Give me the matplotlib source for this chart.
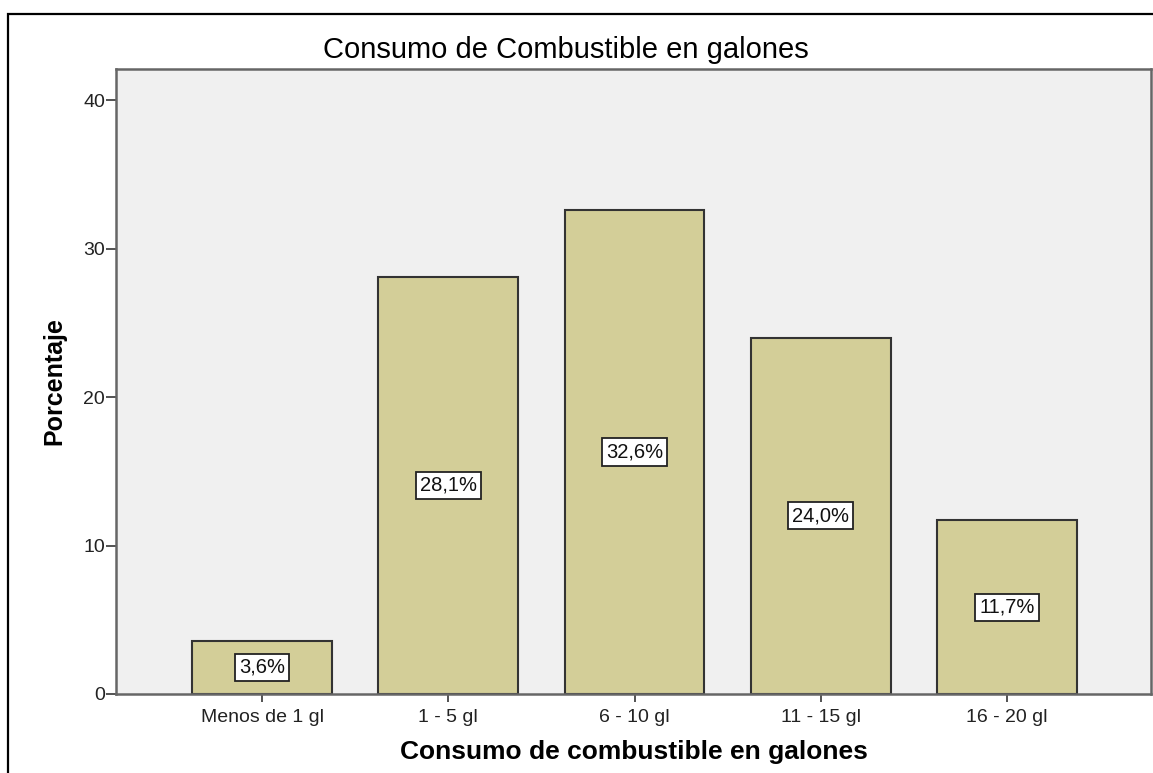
import matplotlib
matplotlib.use('Agg')
from matplotlib import pyplot as plt
from matplotlib.patches import Rectangle

plt.rcParams['font.family'] = ['Liberation Sans', 'DejaVu Sans']

categorias = ['Menos de 1 gl', '1 - 5 gl', '6 - 10 gl', '11 - 15 gl', '16 - 20 gl']
porcentajes = [3.6, 28.1, 32.6, 24.0, 11.7]
yticks = [0, 10, 20, 30, 40]

W, H = 1153, 773
fig = plt.figure(figsize=(W / 100, H / 100), dpi=100)
fig.patch.set_facecolor('white')

# marco exterior del grafico
fig.patches.append(Rectangle((8 / W, -0.2), 1.2, 1.2 - 14 / H, transform=fig.transFigure,
                             fill=False, edgecolor='black', linewidth=1.6))

ax = fig.add_axes([116 / W, 1 - 694 / H, (1151 - 116) / W, (694 - 69) / H])
ax.set_facecolor('#f0f0f0')

x = list(range(len(categorias)))
ax.bar(x, porcentajes, width=0.75, color='#d3ce98', edgecolor='#333333', linewidth=1.5, zorder=2)

for xi, v in zip(x, porcentajes):
    etiqueta = f'{v:.1f}'.replace('.', ',') + '%'
    ax.text(xi, v / 2, etiqueta, ha='center', va='center', fontsize=14.5, color='#111111', zorder=3,
            bbox=dict(boxstyle='square,pad=0.2', facecolor='white', edgecolor='#222222', linewidth=1.3))

ax.set_xlim(-0.784, 4.773)
ax.set_ylim(0, 42.1)
ax.set_xticks(x)
ax.set_xticklabels(categorias, fontsize=14, color='#222222')
ax.set_yticks(yticks)
ax.set_yticklabels([str(t) for t in yticks], fontsize=14, color='#222222')
ax.tick_params(axis='y', length=7, width=1.3, color='#444444', pad=1)
ax.tick_params(axis='x', length=6, width=1.3, color='#444444', pad=5)

for lado in ax.spines.values():
    lado.set_color('#666666')
    lado.set_linewidth(1.8)

ax.set_ylabel('Porcentaje', fontsize=18, fontweight='bold', labelpad=12)
ax.set_xlabel('Consumo de combustible en galones', fontsize=19, fontweight='bold', labelpad=10)

fig.text(566 / W, 1 - 50 / H, 'Consumo de Combustible en galones', ha='center', va='center',
         fontsize=21, color='black')

fig.savefig('out.png', dpi=100)
